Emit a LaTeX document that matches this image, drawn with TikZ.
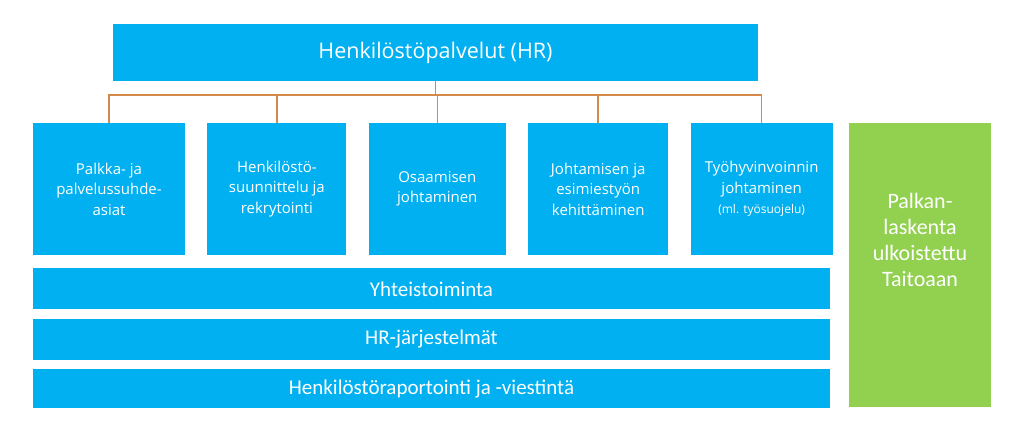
\documentclass[tikz,border=0pt]{standalone}
\usepackage{fontspec}
\setmainfont{Carlito}
\newfontfamily\segoe{Open Sans}
\usetikzlibrary{positioning,chains,calc}
\definecolor{hrblue}{HTML}{00B0F0}
\definecolor{hrgreen}{HTML}{92D050}
\definecolor{hrorange}{HTML}{D4884A}
\tikzstyle{unit} = [rectangle, fill=hrblue, text=white, align=center,
                    minimum height=132pt, inner sep=2pt,
                    font=\segoe\fontsize{15}{20.5}\selectfont]
\tikzstyle{bar}  = [rectangle, fill=hrblue, text=white, minimum width=797pt,
                    font=\fontsize{21}{24}\selectfont]
\tikzstyle{bus}  = [hrorange, line width=1.6pt]

\begin{document}
\begin{tikzpicture}[x=1pt, y=-1pt, start chain, node distance=22pt]
		\useasboundingbox (0,0) rectangle (1024,429);
		\node[fill=hrblue, text=white, minimum width=645pt, minimum height=57pt,
		      font=\segoe\fontsize{21.5}{25}\selectfont] (HR) at (435.5,52.5) {Henkilöstöpalvelut (HR)};
		\node[unit,on chain,minimum width=152pt] (A) at (109,189) {Palkka- ja\\palvelussuhde-\\asiat};
		\node[unit,on chain,minimum width=139pt] (B) {Henkilöstö-\\suunnittelu ja\\rekrytointi};
		\node[unit,on chain,minimum width=137pt] (C) {Osaamisen\\johtaminen};
		\node[unit,on chain,minimum width=140pt] (D) {Johtamisen ja\\esimiestyön\\kehittäminen};
		\node[unit,on chain,minimum width=142pt] (E) {Työhyvinvoinnin\\johtaminen\\{\fontsize{12}{14}\selectfont (ml. työsuojelu)}};
		\node[bar, minimum height=41pt, below=13pt of A.south west, anchor=north west] (Y) {Yhteistoiminta};
		\node[bar, minimum height=41pt, below=9pt of Y] (J) {HR-järjestelmät};
		\node[bar, minimum height=39pt, below=9pt of J] (V) {Henkilöstöraportointi ja -viestintä};
		\node[fill=hrgreen, minimum width=142pt, minimum height=284pt,
		      right=16pt of E.north east, anchor=north west] (pay) {};
		\node[text=white, align=center, font=\fontsize{22}{26}\selectfont,
		      below=67pt of pay.north] (paytext) {Palkan-\\laskenta\\ulkoistettu\\Taitoaan};
		% organisation lines
		\coordinate (hub) at ($(HR.south)+(0,14)$);
		\draw[bus] (HR.south) -- (hub);
		\draw[bus] (A.north) |- (E.north |- hub) -- (E.north);
		\foreach \n in {B,C,D}
			\draw[bus] (\n.north) -- (\n.north |- hub);
	\end{tikzpicture}
\end{document}
